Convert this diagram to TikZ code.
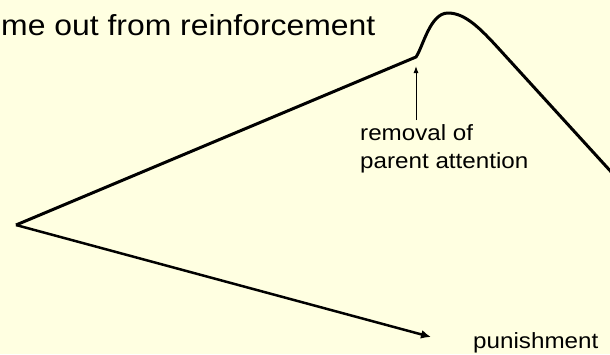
\documentclass[tikz,border=0pt]{standalone}
\usepackage{fontspec}
\setmainfont{Liberation Sans}[FakeStretch=1.1]
\usetikzlibrary{arrows.meta}
\definecolor{paper}{RGB}{255,255,225}

\begin{document}
\begin{tikzpicture}[x=1pt,y=-1pt,
    lbl/.style={inner sep=0pt, anchor=base west, align=left, font=\fontsize{22}{28}\selectfont}]
% background
    \fill[paper] (0,0) rectangle (610,354);
    \useasboundingbox (0,0) rectangle (610,354);
% points
    \coordinate (start) at (16,225);
    \coordinate (kink) at (416,57);
    \coordinate (peak) at (448,13);
    \coordinate (fall) at (500,50);
    \coordinate (exit) at (614,175);
    \coordinate (punend) at (431,337);
    \coordinate (tail) at (416,120);
% labels
    \node[lbl, font=\fontsize{29}{35}\selectfont] (title) at (1,35) {me out from reinforcement};
    \node[lbl] (removal) at (360,168) {removal of\\parent attention};
    \node[lbl] (punish) at (473,348) {punishment};
% curves
    \draw[line width=3pt, line join=round] (start) -- (kink)
        .. controls (423,47) and (430,13) .. (peak)
        .. controls (465,13) and (480,28) .. (fall) -- (exit);
    \draw[line width=2.5pt, -{Latex[length=10pt,width=9pt]}] (start) -- (punend);
    \draw[line width=1pt, -{Latex[length=7pt,width=5pt]}, shorten >=9pt] (tail) -- (kink);
\end{tikzpicture}
\end{document}
